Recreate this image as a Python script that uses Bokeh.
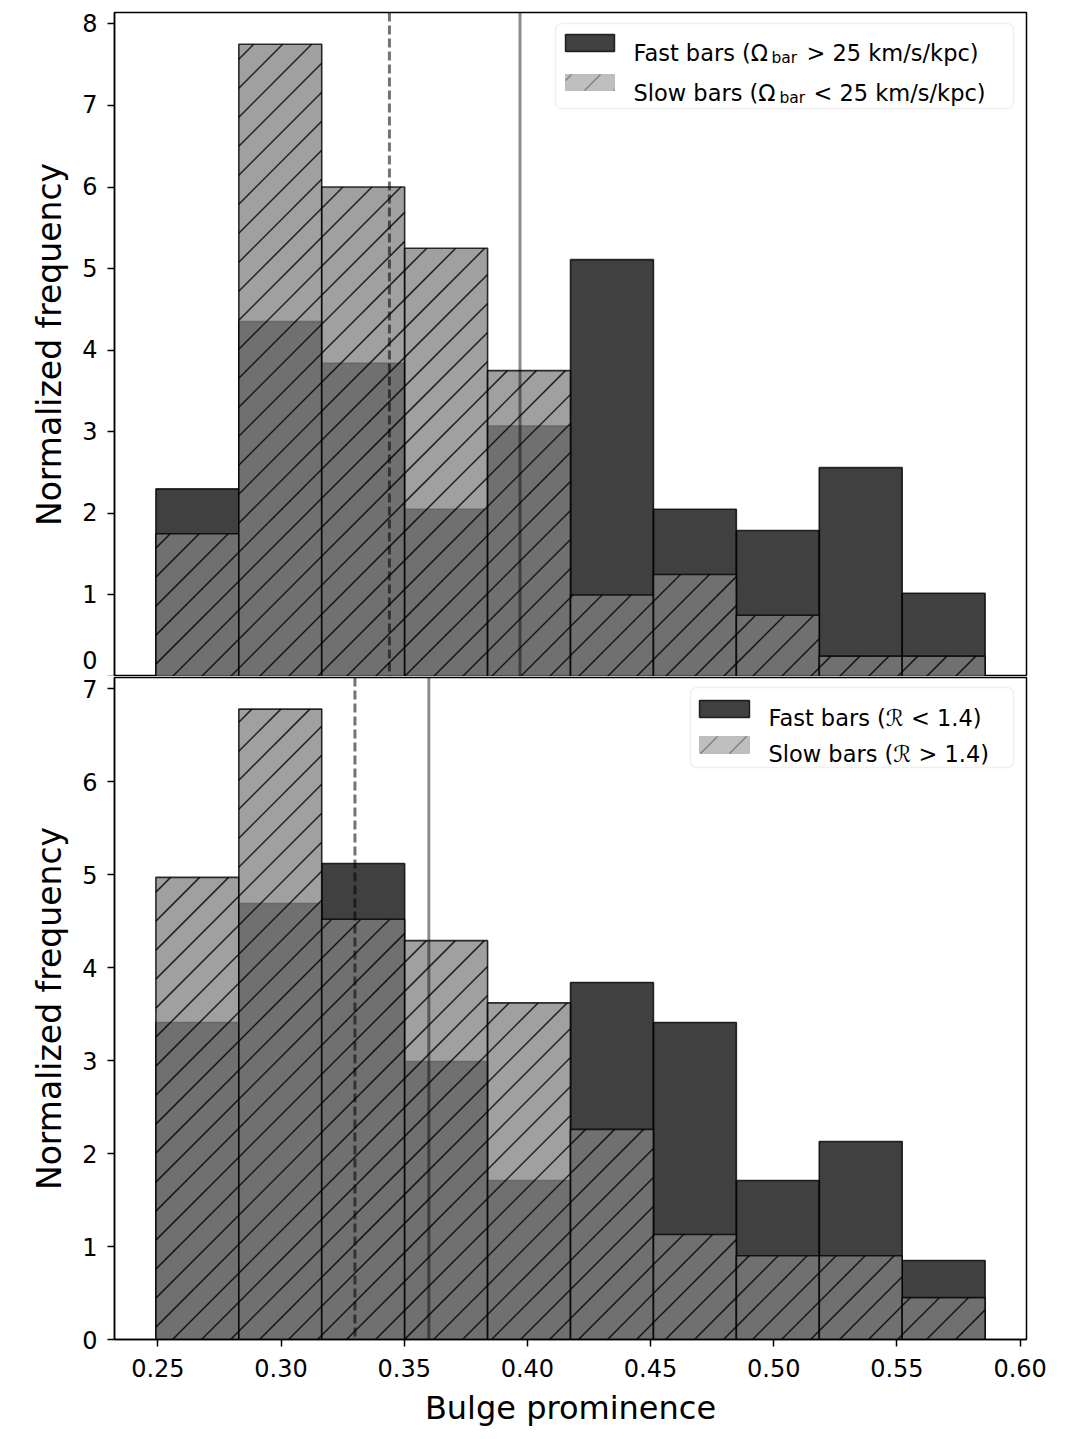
import math
from bokeh.plotting import figure
from bokeh.models import Range1d, FixedTicker, Span, BoxAnnotation, Label
from bokeh.layouts import column
from bokeh.embed import file_html
from bokeh.resources import INLINE

# ---------------- data ----------------
bin_edges = [0.2492, 0.28286, 0.31652, 0.35018, 0.38384, 0.4175,
             0.45116, 0.48482, 0.51848, 0.55214, 0.5858]

top_fast = [2.30, 4.35, 3.84, 2.05, 3.07, 5.11, 2.05, 1.79, 2.56, 1.02]
top_slow = [1.75, 7.75, 6.00, 5.25, 3.75, 1.00, 1.25, 0.75, 0.25, 0.25]
bot_fast = [3.41, 4.69, 5.12, 2.99, 1.71, 3.84, 3.41, 1.71, 2.13, 0.85]
bot_slow = [4.97, 6.78, 4.52, 4.29, 3.62, 2.26, 1.13, 0.90, 0.90, 0.45]

top_lines = {"slow": 0.344, "fast": 0.397}
bot_lines = {"slow": 0.330, "fast": 0.360}

x_ticks = [0.25, 0.30, 0.35, 0.40, 0.45, 0.50, 0.55, 0.60]
x_tick_labels = ["0.25", "0.30", "0.35", "0.40", "0.45", "0.50", "0.55", "0.60"]
top_y_ticks = [0, 1, 2, 3, 4, 5, 6, 7, 8]
bot_y_ticks = [0, 1, 2, 3, 4, 5, 6, 7]

top_labels = ["Fast bars (\u03a9", "bar", "> 25 km/s/kpc)",
              "Slow bars (\u03a9", "bar", "< 25 km/s/kpc)"]
bot_labels = ["Fast bars (\u211b < 1.4)", "Slow bars (\u211b > 1.4)"]

x_label = "Bulge prominence"
y_label = "Normalized frequency"

# ---------------- layout constants ----------------
FONT = "DejaVu Sans"
X0, X1 = 0.2324, 0.6026
FW = 912
TOP_FH, BOT_FH = 664, 662
TOP_YMAX = 8.14
BOT_YMAX = 7.12
LEFT_BORDER = 114
HATCH = 29  # px between hatch lines (vertical)
PPX_X = FW / (X1 - X0)


def px_x(px):
    return X0 + (px - 114) / FW * (X1 - X0)


def px_y_top(py):
    return TOP_YMAX - (py - 12) / TOP_FH * TOP_YMAX


def px_y_bot(py):
    return BOT_YMAX - (py - 677) / BOT_FH * BOT_YMAX


def hatch_segments(lefts, rights, tops, bottoms, ppx_y):
    """45-degree '/' hatch lines clipped to each rectangle (screen-space aligned)."""
    x0s, y0s, x1s, y1s = [], [], [], []
    for l, r, t, b in zip(lefts, rights, tops, bottoms):
        xl = (l - X0) * PPX_X
        xr = (r - X0) * PPX_X
        yt = t * ppx_y
        yb = b * ppx_y
        kmin = math.floor((xl - yt) / HATCH) - 1
        kmax = math.ceil((xr - yb) / HATCH) + 1
        for k in range(kmin, kmax + 1):
            xk = k * HATCH
            xs = max(xl, xk + yb)
            xe = min(xr, xk + yt)
            if xe - xs > 0.5:
                x0s.append(X0 + xs / PPX_X)
                y0s.append((xs - xk) / ppx_y)
                x1s.append(X0 + xe / PPX_X)
                y1s.append((xe - xk) / ppx_y)
    return x0s, y0s, x1s, y1s


def style_axes(p, yticks):
    p.grid.visible = False
    p.outline_line_color = "black"
    p.outline_line_width = 1.5
    p.yaxis.ticker = FixedTicker(ticks=yticks)
    p.yaxis.minor_tick_line_color = None
    p.yaxis.major_tick_out = 7
    p.yaxis.major_tick_in = 0
    p.yaxis.major_tick_line_width = 1.5
    p.yaxis.axis_line_width = 1.5
    p.yaxis.major_label_text_font = FONT
    p.yaxis.major_label_text_font_size = "24px"
    p.yaxis.major_label_text_color = "black"
    p.yaxis.major_label_standoff = 10
    p.yaxis.axis_label = y_label
    p.yaxis.axis_label_text_font = FONT
    p.yaxis.axis_label_text_font_size = "33px"
    p.yaxis.axis_label_text_font_style = "normal"
    p.yaxis.axis_label_text_color = "black"
    p.yaxis.axis_label_standoff = 10


def draw_bars(p, fast, slow, lines, ppx_y):
    p.quad(left=bin_edges[:-1], right=bin_edges[1:], top=fast, bottom=0,
           fill_color="black", fill_alpha=0.75,
           line_color="black", line_alpha=0.8, line_width=1.6)
    p.quad(left=bin_edges[:-1], right=bin_edges[1:], top=slow, bottom=0,
           fill_color="#808080", fill_alpha=0.75,
           line_color="black", line_alpha=0.8, line_width=1.6)
    n = len(slow)
    x0s, y0s, x1s, y1s = hatch_segments(bin_edges[:-1], bin_edges[1:],
                                        slow, [0] * n, ppx_y)
    p.segment(x0=x0s, y0=y0s, x1=x1s, y1=y1s, line_color="black",
              line_alpha=0.8, line_width=1.5)
    p.add_layout(Span(location=lines["slow"], dimension="height",
                      line_color="black", line_alpha=0.55, line_width=3,
                      line_dash="9 4"))
    p.add_layout(Span(location=lines["fast"], dimension="height",
                      line_color="black", line_alpha=0.45, line_width=3))


def legend_box(p, l, r, t, b):
    p.add_layout(BoxAnnotation(left=l, right=r, top=t, bottom=b,
                               fill_color="white", fill_alpha=0.85,
                               line_color="#cccccc", line_width=1.5,
                               border_radius=6))


def patch(p, l, r, t, b, slow, ppx_y):
    if slow:
        p.add_layout(BoxAnnotation(left=l, right=r, top=t, bottom=b,
                                   fill_color="#808080", fill_alpha=0.5,
                                   line_color="#999999", line_alpha=0.5,
                                   line_width=1))
        x0s, y0s, x1s, y1s = hatch_segments([l], [r], [t], [b], ppx_y)
        p.segment(x0=x0s, y0=y0s, x1=x1s, y1=y1s, line_color="black",
                  line_alpha=0.35, line_width=1.2, level="overlay")
    else:
        p.add_layout(BoxAnnotation(left=l, right=r, top=t, bottom=b,
                                   fill_color="black", fill_alpha=0.75,
                                   line_color="black", line_alpha=0.8,
                                   line_width=1.5))


def text(p, x, y, s, size="22.5px", align="left"):
    p.add_layout(Label(x=x, y=y, text=s, text_font=FONT,
                       text_font_size=size, text_color="black",
                       text_baseline="alphabetic", text_align=align))


PPY_TOP = TOP_FH / TOP_YMAX
PPY_BOT = BOT_FH / BOT_YMAX

# ---------------- top panel ----------------
top = figure(frame_width=FW, frame_height=TOP_FH,
             x_range=Range1d(X0, X1), y_range=Range1d(0, TOP_YMAX),
             output_backend="svg", toolbar_location=None,
             min_border_left=LEFT_BORDER, min_border_right=40,
             min_border_top=12, min_border_bottom=0)
style_axes(top, top_y_ticks)
# the zero label of the upper panel sits above the shared edge
top.yaxis.major_label_overrides = {0: "0\n "}
top.yaxis.major_label_text_line_height = 0.05
top.xaxis.visible = False
draw_bars(top, top_fast, top_slow, top_lines, PPY_TOP)

legend_box(top, px_x(555), px_x(1013), px_y_top(23), px_y_top(108))
patch(top, px_x(565), px_x(614), px_y_top(34), px_y_top(51), False, PPY_TOP)
patch(top, px_x(565), px_x(614), px_y_top(74), px_y_top(90), True, PPY_TOP)
text(top, px_x(633), px_y_top(52), top_labels[0])
text(top, px_x(771), px_y_top(57), top_labels[1], "15.5px")
text(top, px_x(806), px_y_top(52), top_labels[2])
text(top, px_x(633), px_y_top(92), top_labels[3])
text(top, px_x(779), px_y_top(97), top_labels[4], "15.5px")
text(top, px_x(813), px_y_top(92), top_labels[5])

# ---------------- bottom panel ----------------
bot = figure(frame_width=FW, frame_height=BOT_FH,
             x_range=Range1d(X0, X1), y_range=Range1d(0, BOT_YMAX),
             output_backend="svg", toolbar_location=None,
             min_border_left=LEFT_BORDER, min_border_right=40,
             min_border_top=1, min_border_bottom=4)
style_axes(bot, bot_y_ticks)
bot.xaxis.ticker = FixedTicker(ticks=x_ticks)
bot.xaxis.major_label_overrides = {t: s for t, s in zip(x_ticks, x_tick_labels)}
bot.xaxis.minor_tick_line_color = None
bot.xaxis.major_tick_out = 7
bot.xaxis.major_tick_in = 0
bot.xaxis.major_tick_line_width = 1.5
bot.xaxis.axis_line_width = 1.5
bot.xaxis.major_label_text_font = FONT
bot.xaxis.major_label_text_font_size = "24px"
bot.xaxis.major_label_text_color = "black"
bot.xaxis.major_label_standoff = 12
bot.xaxis.axis_label = x_label
bot.xaxis.axis_label_text_font = FONT
bot.xaxis.axis_label_text_font_size = "32px"
bot.xaxis.axis_label_text_font_style = "normal"
bot.xaxis.axis_label_text_color = "black"
bot.xaxis.axis_label_standoff = 9
draw_bars(bot, bot_fast, bot_slow, bot_lines, PPY_BOT)

legend_box(bot, px_x(690), px_x(1013), px_y_bot(687), px_y_bot(767))
patch(bot, px_x(699), px_x(749), px_y_bot(700), px_y_bot(717), False, PPY_BOT)
patch(bot, px_x(699), px_x(749), px_y_bot(736), px_y_bot(753), True, PPY_BOT)
text(bot, px_x(768), px_y_bot(717), bot_labels[0])
text(bot, px_x(768), px_y_bot(753), bot_labels[1])

layout = column(top, bot, spacing=0)
open("out.html", "w").write(file_html(layout, INLINE))
